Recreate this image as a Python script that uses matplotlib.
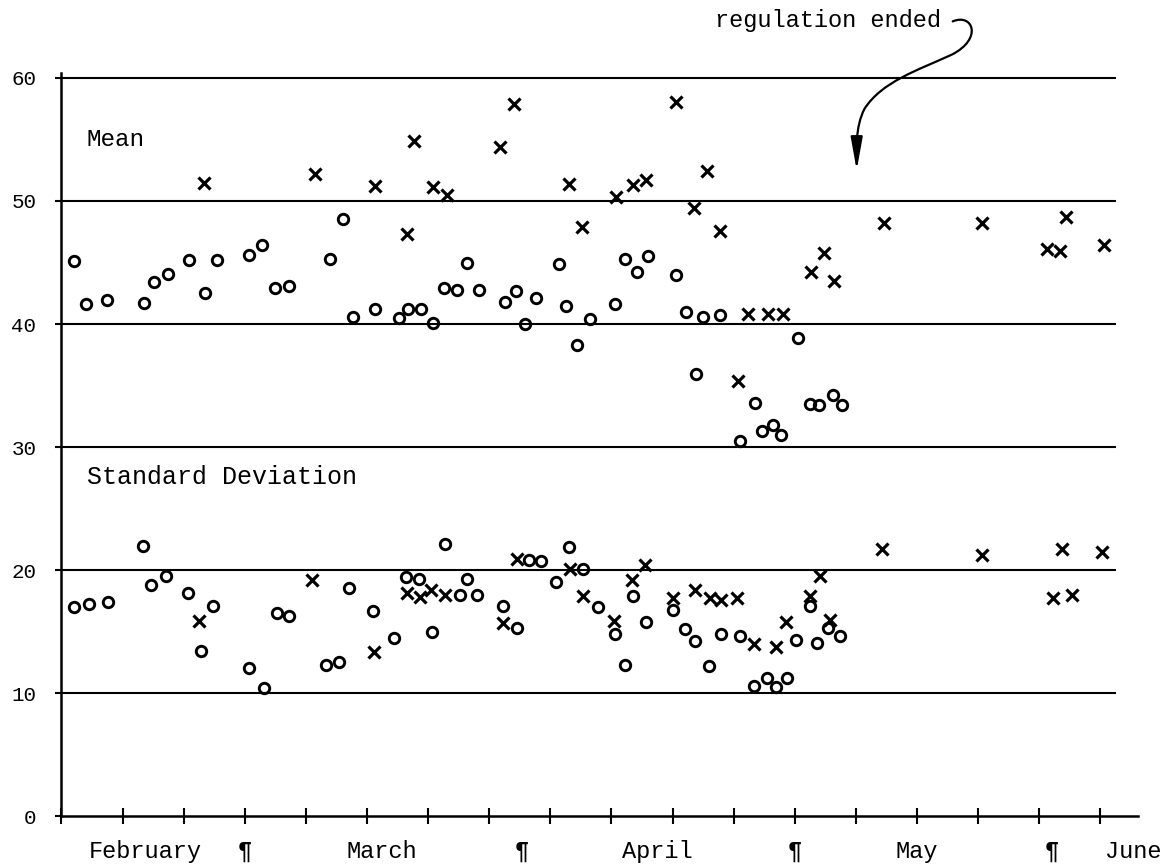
import numpy as np
import matplotlib
matplotlib.use("Agg")
import matplotlib.pyplot as plt
from matplotlib.path import Path
from matplotlib.patches import FancyArrowPatch

# x = days from the start of February (axis ticks are weekly)
mean_o_day = [1.4, 2.8, 5.2, 9.5, 10.6, 12.2, 14.6, 16.4, 17.8, 21.5, 23.0, 24.5, 26.1,
              30.8, 32.2, 33.4, 35.9, 38.7, 39.7, 41.2, 42.6, 43.8, 45.3, 46.5, 47.8,
              50.8, 52.1, 53.1, 54.4, 57.0, 57.8, 59.1, 60.5, 63.4, 64.6, 65.9, 67.2,
              70.4, 71.5, 72.7, 73.5, 75.4, 77.7, 79.4, 80.3, 81.5, 82.4, 84.4, 85.8,
              86.8, 88.4, 89.4]
mean_o_val = [45.1, 41.65, 41.95, 41.7, 43.4, 44.1, 45.2, 42.5, 45.2, 45.6, 46.4, 42.95, 43.05,
              45.3, 48.5, 40.6, 41.2, 40.5, 41.2, 41.2, 40.1, 42.9, 42.8, 45.0, 42.8,
              41.8, 42.7, 40.0, 42.1, 44.9, 41.5, 38.3, 40.4, 41.6, 45.3, 44.2, 45.5,
              44.0, 41.0, 35.9, 40.6, 40.7, 30.5, 33.55, 31.3, 31.8, 31.0, 38.9, 33.5,
              33.4, 34.2, 33.4]

mean_x_day = [16.3, 29.0, 35.9, 39.6, 40.4, 42.6, 44.2, 50.2, 51.8, 58.1, 59.6, 63.5, 65.5,
              67.0, 70.4, 72.5, 74.0, 75.4, 77.5, 78.6, 80.9, 82.6, 85.9, 87.3, 88.5,
              94.2, 105.4, 112.9, 114.4, 115.1, 119.4]
mean_x_val = [51.5, 52.2, 51.2, 47.3, 54.9, 51.1, 50.5, 54.4, 57.9, 51.35, 47.9, 50.3, 51.3,
              51.7, 58.05, 49.4, 52.4, 47.6, 35.4, 40.8, 40.8, 40.8, 44.2, 45.8, 43.5,
              48.2, 48.2, 46.1, 45.9, 48.7, 46.4]

sd_o_day = [1.4, 3.1, 5.3, 9.3, 10.3, 12.0, 14.5, 16.0, 17.3, 21.5, 23.2, 24.7, 26.1,
            30.3, 31.8, 32.9, 35.7, 38.1, 39.5, 41.0, 42.5, 43.9, 45.6, 46.4, 47.6,
            50.6, 52.2, 53.6, 54.9, 56.7, 58.1, 59.7, 61.5, 63.4, 64.6, 65.5, 67.0,
            70.1, 71.4, 72.6, 74.2, 75.5, 77.7, 79.3, 80.8, 81.9, 83.1, 84.2, 85.7,
            86.6, 87.8, 89.2]
sd_o_val = [17.0, 17.2, 17.4, 21.95, 18.8, 19.5, 18.1, 13.4, 17.1, 12.0, 10.4, 16.5, 16.3,
            12.3, 12.55, 18.55, 16.7, 14.5, 19.4, 19.3, 15.0, 22.1, 18.0, 19.25, 18.0,
            17.1, 15.3, 20.8, 20.75, 19.05, 21.9, 20.05, 17.0, 14.8, 12.3, 17.9, 15.8,
            16.75, 15.2, 14.2, 12.2, 14.8, 14.6, 10.6, 11.2, 10.5, 11.25, 14.35, 17.1,
            14.1, 15.3, 14.6]

sd_x_day = [15.8, 28.7, 35.8, 39.6, 41.1, 42.3, 43.9, 50.6, 52.2, 58.3, 59.8, 63.3, 65.4,
            66.9, 70.1, 72.6, 74.3, 75.6, 77.4, 79.3, 81.9, 83.0, 85.7, 86.9, 88.0,
            94.0, 105.4, 113.6, 114.6, 115.8, 119.2]
sd_x_val = [15.85, 19.2, 13.3, 18.1, 17.8, 18.4, 18.0, 15.7, 20.9, 20.1, 17.9, 15.85, 19.15,
            20.4, 17.7, 18.4, 17.7, 17.6, 17.7, 13.95, 13.75, 15.8, 17.9, 19.5, 15.9,
            21.7, 21.2, 17.7, 21.7, 18.0, 21.5]

month_pos = [9.6, 21, 36.75, 52.7, 68.25, 84, 98, 113.5, 122.8]
month_labels = ["February", "¶", "March", "¶", "April", "¶", "May", "¶", "June"]
y_levels = [10, 20, 30, 40, 50, 60]

plt.rcParams["font.family"] = ["Liberation Mono", "DejaVu Sans Mono"]

fig = plt.figure(figsize=(11.76, 8.65), dpi=100)
ax = fig.add_axes([0, 0, 1, 1])
ax.set_xlim(-7.045, 127.68)
ax.set_ylim(-3.98, 66.34)

for side in ["top", "right"]:
    ax.spines[side].set_visible(False)
ax.spines["left"].set_position(("data", 0))
ax.spines["bottom"].set_position(("data", 0))
ax.spines["left"].set_bounds(0, 60.4)
ax.spines["bottom"].set_bounds(0, 123.3)
ax.spines["left"].set_linewidth(1.8)
ax.spines["bottom"].set_linewidth(1.8)

ax.hlines(y_levels, 0, 120.8, color="black", lw=1.5)

# keep the month / pilcrow labels that fall on a weekly tick
ax.xaxis.remove_overlapping_locs = False
ax.set_xticks(np.arange(0, 120, 7))
ax.set_xticklabels([])
ax.set_xticks(month_pos, month_labels, minor=True)
ax.tick_params(axis="x", which="major", direction="inout", length=11, width=1.5)
ax.tick_params(axis="x", which="minor", length=0, pad=17, labelsize=17)
ax.set_yticks([0, 10, 20, 30, 40, 50, 60])
ax.tick_params(axis="y", direction="out", length=4, width=1.5, pad=14, labelsize=15)
for lab in ax.get_xticklabels(minor=True):
    if lab.get_text() == "¶":
        lab.set_fontweight("bold")

ax.plot(mean_o_day, mean_o_val, "o", mfc="none", mec="black", ms=7.5, mew=2.1)
ax.plot(sd_o_day, sd_o_val, "o", mfc="none", mec="black", ms=7.5, mew=2.1)
ax.plot(mean_x_day, mean_x_val, "x", color="black", ms=8, mew=2.3)
ax.plot(sd_x_day, sd_x_val, "x", color="black", ms=8, mew=2.3)

ax.text(2.9, 55.0, "Mean", fontsize=17.5, ha="left", va="center")
ax.text(2.9, 27.6, "Standard Deviation", fontsize=18, ha="left", va="center")
ax.text(74.9, 64.7, "regulation ended", fontsize=17, ha="left", va="center")

verts = [(102.1, 64.6), (104.4, 65.3), (105.6, 63.2), (102.0, 61.9),
         (98.0, 60.6), (94.0, 59.7), (92.0, 57.5),
         (90.9, 56.0), (91.1, 54.1), (91.1, 52.5)]
codes = [Path.MOVETO] + [Path.CURVE4] * 9
arrow = FancyArrowPatch(path=Path(verts, codes),
                        arrowstyle="-|>,head_length=1.0,head_width=0.18",
                        mutation_scale=20, lw=1.6, color="black")
ax.add_patch(arrow)

fig.savefig("out.png", dpi=100)
